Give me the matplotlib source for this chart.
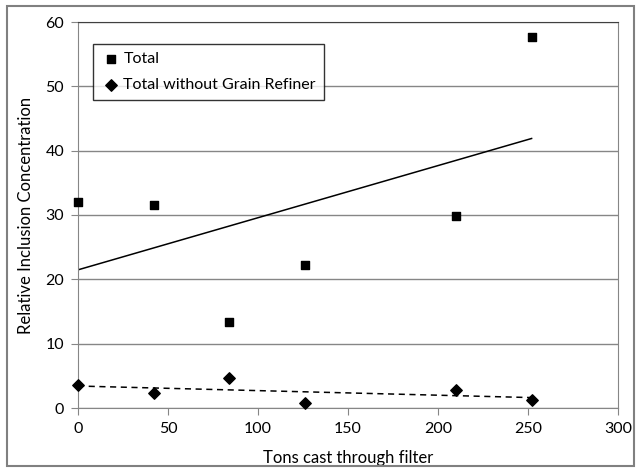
import numpy as np
import matplotlib
matplotlib.use('Agg')
import matplotlib.pyplot as plt
from matplotlib.patches import Rectangle

plt.rcParams['font.family'] = ['Lato', 'DejaVu Sans']

# data
tons = [0, 42, 84, 126, 210, 252]
total = [32.0, 31.6, 13.3, 22.3, 29.8, 57.7]
total_no_gr = [3.6, 2.3, 4.7, 0.7, 2.8, 1.3]

fig = plt.figure(figsize=(6.4, 4.72), dpi=100)
ax = fig.add_axes([78/640, 1-408/472, (618-78)/640, (408-22)/472])

# outer chart frame
fig.patches.append(Rectangle((7/640, 6/472), 627/640, 460/472, transform=fig.transFigure,
                             fill=False, edgecolor='#808080', linewidth=1.5))

ax.scatter(tons, total, marker='s', s=38, color='black', zorder=3, label='Total', clip_on=False)
ax.scatter(tons, total_no_gr, marker='D', s=34, color='black', zorder=3,
           label='Total without Grain Refiner', clip_on=False)

# linear trend lines
xx = np.array([min(tons), max(tons)])
p1 = np.polyfit(tons, total, 1)
p2 = np.polyfit(tons, total_no_gr, 1)
ax.plot(xx, np.polyval(p1, xx), color='black', lw=1.1, zorder=2)
ax.plot(xx, np.polyval(p2, xx), color='black', lw=1.1, ls=(0, (4, 3)), zorder=2)

ax.set_xlim(0, 300)
ax.set_ylim(0, 60)
ax.set_xticks(range(0, 301, 50))
ax.set_yticks(range(0, 61, 10))
ax.yaxis.grid(True, color='#868686', lw=1)
ax.set_axisbelow(True)
for s in ax.spines.values():
    s.set_color('#868686')
ax.spines['top'].set_color('#404040')
ax.tick_params(direction='out', length=5, color='#868686', labelsize=11.5, pad=5)

ax.set_xlabel('Tons cast through filter', fontsize=12, labelpad=10)
ax.set_ylabel('Relative Inclusion Concentration', fontsize=12, labelpad=8)

leg = ax.legend(loc='upper left', bbox_to_anchor=(15/540, 1-22/386), fontsize=11.5,
                frameon=True, fancybox=False, edgecolor='black', handletextpad=0.2,
                handlelength=1.2, borderpad=0.5, labelspacing=0.75, borderaxespad=0)
leg.get_frame().set_linewidth(1.0)

fig.savefig('out.png', dpi=100)
